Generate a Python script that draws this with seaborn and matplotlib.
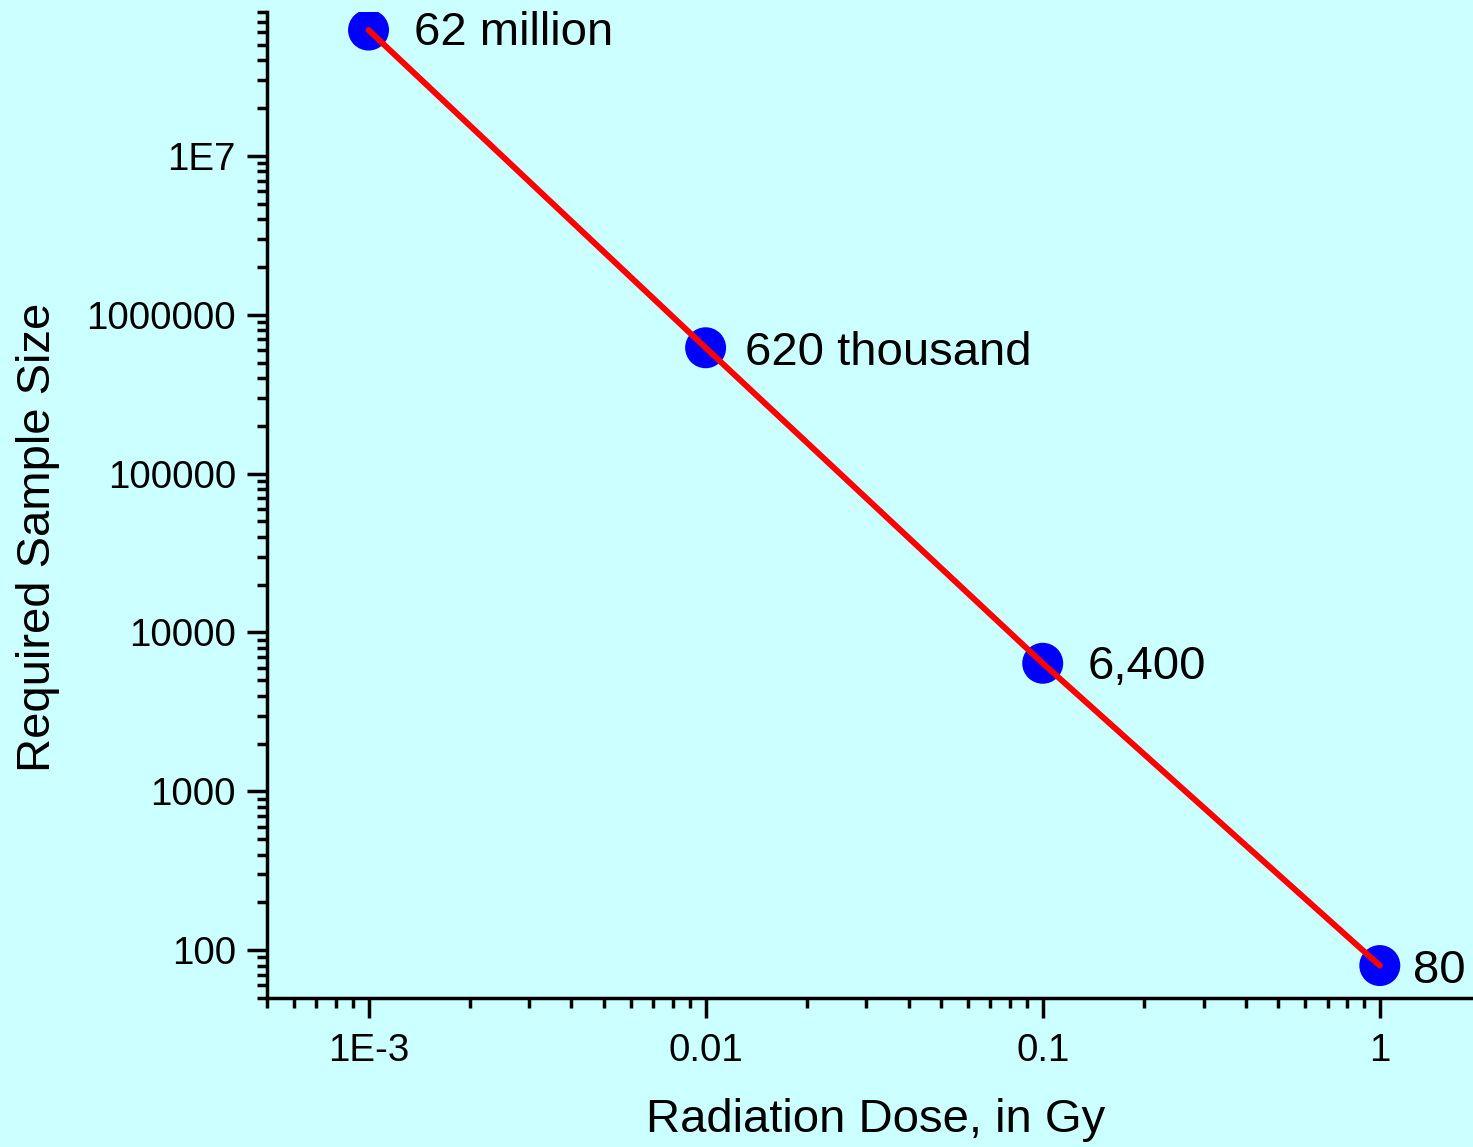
import matplotlib
matplotlib.use("Agg")
import matplotlib.pyplot as plt
import matplotlib.ticker as mticker
import seaborn as sns
import pandas as pd

# ---- data ----
dose_gy = [0.001, 0.01, 0.1, 1.0]
sample_size = [62e6, 620e3, 6400, 80]
point_labels = ["62 million", "620 thousand", "6,400", "80"]

x_ticks = [0.001, 0.01, 0.1, 1]
x_tick_labels = ["1E-3", "0.01", "0.1", "1"]
y_ticks = [100, 1000, 10000, 100000, 1000000, 10000000]
y_tick_labels = ["100", "1000", "10000", "100000", "1000000", "1E7"]

x_label = "Radiation Dose, in Gy"
y_label = "Required Sample Size"

# ---- style ----
sns.set_style("ticks")
plt.rcParams["font.family"] = ["Liberation Sans", "DejaVu Sans"]
bg = "#CCFFFF"

df = pd.DataFrame({"dose": dose_gy, "n": sample_size})

fig = plt.figure(figsize=(14.73, 11.47), dpi=100, facecolor=bg)
ax = fig.add_axes([0.1813, 0.1299, 1.0 - 0.1813, 0.9895 - 0.1299])
ax.set_facecolor(bg)

sns.scatterplot(data=df, x="dose", y="n", ax=ax, s=870, color="#0000FF",
                edgecolor="none", zorder=2, legend=False)
sns.lineplot(data=df, x="dose", y="n", ax=ax, color="#FF0000", linewidth=4.3,
             zorder=3, legend=False)

ax.set_xscale("log")
ax.set_yscale("log")
ax.set_xlim(0.0005, 1.89)
ax.set_ylim(50, 8.05e7)

ax.xaxis.set_major_locator(mticker.FixedLocator(x_ticks))
ax.xaxis.set_major_formatter(mticker.FixedFormatter(x_tick_labels))
ax.yaxis.set_major_locator(mticker.FixedLocator(y_ticks))
ax.yaxis.set_major_formatter(mticker.FixedFormatter(y_tick_labels))
ax.xaxis.set_minor_locator(mticker.LogLocator(base=10, subs=range(2, 10), numticks=20))
ax.yaxis.set_minor_locator(mticker.LogLocator(base=10, subs=range(2, 10), numticks=20))
ax.xaxis.set_minor_formatter(mticker.NullFormatter())
ax.yaxis.set_minor_formatter(mticker.NullFormatter())

for side in ["top", "right"]:
    ax.spines[side].set_visible(False)
for side in ["left", "bottom"]:
    ax.spines[side].set_linewidth(2.5)
    ax.spines[side].set_color("black")

ax.tick_params(axis="both", which="major", direction="out", length=14.4, width=2.5,
               labelsize=27.7, colors="black")
ax.tick_params(axis="x", which="major", pad=11)
ax.tick_params(axis="y", which="major", pad=8)
ax.tick_params(which="minor", direction="out", length=7.2, width=2.5, colors="black")

offsets = [(33, -2), (28, -4), (32, -3), (24, -4)]
for x, y, t, off in zip(dose_gy, sample_size, point_labels, offsets):
    ax.annotate(t, (x, y), xytext=off, textcoords="offset points",
                fontsize=34, ha="left", va="center", color="black",
                annotation_clip=False, zorder=4)

ax.set_xlabel(x_label, fontsize=34, color="black")
ax.set_ylabel(y_label, fontsize=34, color="black")
ax.xaxis.label.set_va("center")
ax.yaxis.label.set_va("center")
ax.xaxis.set_label_coords(0.505, -0.124)
ax.yaxis.set_label_coords(-0.19, 0.4675)

fig.savefig("out.png", dpi=100, facecolor=bg)
